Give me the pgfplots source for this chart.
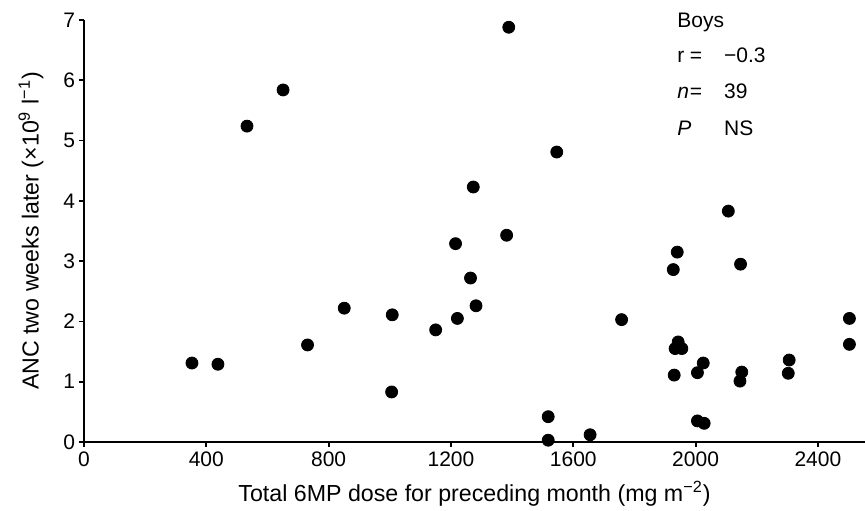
\documentclass[border=0pt]{standalone}
\usepackage{fontspec}
\setmainfont{Liberation Sans}
\usepackage{pgfplots}
\pgfplotsset{compat=1.18}
\tikzset{ann/.style={anchor=base west, inner sep=0pt, font=\fontsize{10.5}{12}\selectfont}}

\begin{document}
\begin{tikzpicture}
  \begin{axis}[
    scale only axis,
    width=390.5pt, height=211pt,
    xmin=0, xmax=2554,
    ymin=0, ymax=7,
    axis x line*=bottom,
    axis y line*=left,
    axis line style={line width=1.1pt, black},
    xtick={0,400,...,2400},
    ytick={0,1,...,7},
    tick align=outside,
    major tick length=2.5pt,
    every tick/.style={black, line width=0.9pt},
    tick label style={font=\fontsize{10.5}{12}\selectfont},
    xticklabel style={yshift=1pt},
    yticklabel style={xshift=1.5pt},
    /pgf/number format/assume math mode=true,
    /pgf/number format/1000 sep={},
    xlabel={Total 6MP dose for preceding month (mg m\textsuperscript{−2})},
    ylabel={ANC two weeks later (×10\textsuperscript{9} l\textsuperscript{−1})},
    label style={font=\fontsize{11.6}{13}\selectfont},
    xlabel style={at={(axis description cs:0.5,0)}, anchor=base, yshift=-29.5pt},
    ylabel style={at={(axis description cs:-0.068,0.5)}, anchor=center},
    clip=false,
  ]
    \addplot[only marks, mark=*, mark size=3pt, black] coordinates {
      (353,1.31) (438,1.29) (533,5.24) (651,5.84)
      (1389,6.88) (1546,4.81) (1273,4.23) (1382,3.43) (1215,3.29)
      (1264,2.72) (851,2.22) (1008,2.11) (1282,2.26) (1221,2.05)
      (1150,1.86) (731,1.61) (1006,0.83) (1518,0.42) (1518,0.03)
      (1655,0.12) (1758,2.03) (1940,3.15) (1927,2.86) (2107,3.83)
      (2147,2.95) (1943,1.66) (1933,1.55) (1955,1.55) (1930,1.11)
      (2006,1.15) (2025,1.31) (2006,0.35) (2028,0.31) (2151,1.16)
      (2145,1.01) (2306,1.36) (2303,1.14) (2503,2.05) (2503,1.62)
    };
    \node[ann] at (axis cs:1939,6.88) {Boys};
    \node[ann] at (axis cs:1939,6.29) {r};
    \node[ann] at (axis cs:1939,5.69) {\textit{n}};
    \node[ann] at (axis cs:1939,5.09) {\textit{P}};
    \node[ann] at (axis cs:1980,6.29) {=};
    \node[ann] at (axis cs:1980,5.69) {=};
    \node[ann] at (axis cs:2092,6.29) {−0.3};
    \node[ann] at (axis cs:2092,5.69) {39};
    \node[ann] at (axis cs:2092,5.09) {NS};
  \end{axis}
  \pgfresetboundingbox
  \path[use as bounding box] (-42pt,-34pt) rectangle (390.5pt,221pt);
\end{tikzpicture}
\end{document}
